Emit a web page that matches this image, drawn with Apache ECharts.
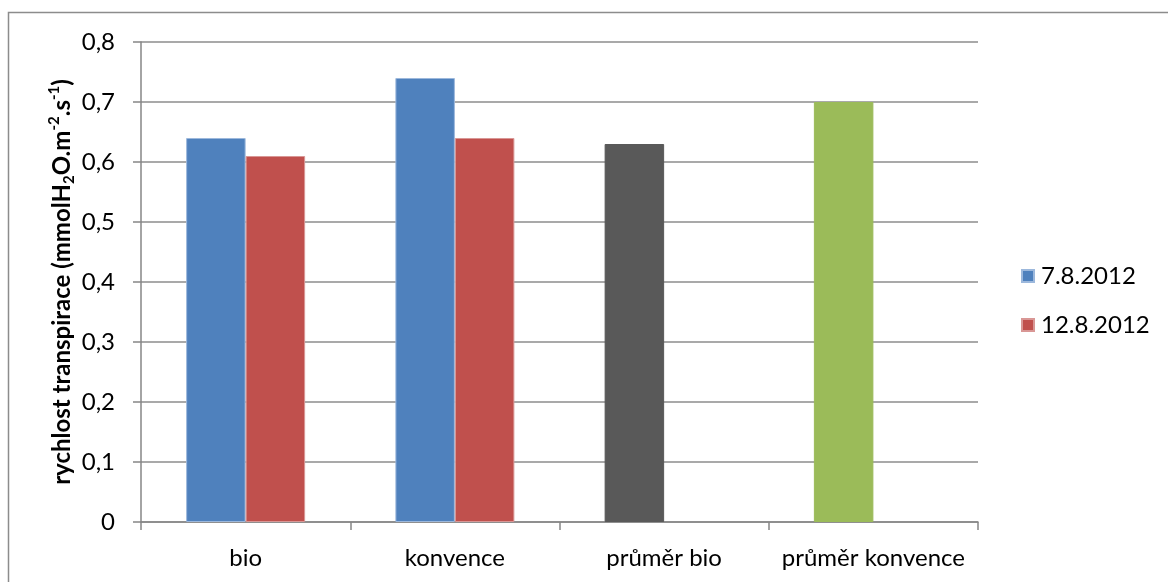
<!DOCTYPE html>
<html>
<head>
<meta charset="utf-8">
<script src="https://cdn.jsdelivr.net/npm/echarts@6/dist/echarts.min.js"></script>
<style>
  html, body { margin: 0; padding: 0; background: #fff; }
  #chart { width: 1168px; height: 582px; }
</style>
</head>
<body>
<div id="chart"></div>
<script>
// Transpiration rate by cultivation type, two measurement dates plus averages
const categories = ['bio', 'konvence', 'průměr bio', 'průměr konvence'];
const seriesNames = ['7.8.2012', '12.8.2012'];
const date1 = [0.64, 0.74, 0.63, 0.70];
const date2 = [0.61, 0.64, null, null];
const yTicks = [0, 0.1, 0.2, 0.3, 0.4, 0.5, 0.6, 0.7, 0.8];

const colBlue = '#4f81bd';
const colRed = '#c0504d';
const colAvgBio = '#595959';
const colAvgKonv = '#9bbb59';
const FONT = 'Lato, Carlito, sans-serif';

// average bars share the first slot but carry their own colours
const firstSeriesData = date1.map((v, i) => {
  if (i === 2) return { value: v, itemStyle: { color: colAvgBio, borderColor: colAvgBio } };
  if (i === 3) return { value: v, itemStyle: { color: colAvgKonv, borderColor: colAvgKonv } };
  return v;
});

const chart = echarts.init(document.getElementById('chart'), null, { renderer: 'canvas' });

chart.setOption({
  animation: false,
  backgroundColor: '#fff',
  textStyle: { fontFamily: FONT },
  graphic: [{
    type: 'rect',
    shape: { x: 8.5, y: 12.5, width: 1200, height: 620 },
    style: { fill: 'none', stroke: '#8c8c8c', lineWidth: 1.5 },
    silent: true,
    z: -1
  }],
  grid: { left: 141, right: 190, top: 42, bottom: 60, containLabel: false },
  legend: {
    orient: 'vertical',
    left: 1021,
    top: 264,
    padding: 0,
    itemWidth: 12,
    itemHeight: 12,
    itemGap: 25,
    icon: 'rect',
    data: seriesNames.map((n, i) => ({ name: n, itemStyle: { color: i === 0 ? colBlue : colRed } })),
    textStyle: { fontFamily: FONT, fontSize: 24, lineHeight: 24, color: '#000', padding: [0, 0, 0, 2] }
  },
  xAxis: {
    type: 'category',
    data: categories,
    axisLine: { show: true, lineStyle: { color: '#868686', width: 1.5 } },
    axisTick: { show: true, alignWithLabel: false, length: 8, lineStyle: { color: '#868686', width: 1.5 } },
    axisLabel: { fontFamily: FONT, fontSize: 24, color: '#000', margin: 24, interval: 0 },
    splitLine: { show: false }
  },
  yAxis: {
    type: 'value',
    min: yTicks[0],
    max: yTicks[yTicks.length - 1],
    interval: 0.1,
    name: '{m|rychlost transpirace (mmolH}{s|2}{m|O.m}{p|-2}{m|.s}{p|-1}{m|)}',
    nameLocation: 'middle',
    nameGap: 64,
    nameRotate: 90,
    nameMoveOverlap: false,
    nameTextStyle: {
      rich: {
        m: { fontFamily: FONT, fontSize: 24, fontWeight: 'bold', color: '#000', lineHeight: 30, verticalAlign: 'middle' },
        s: { fontFamily: FONT, fontSize: 15, fontWeight: 'bold', color: '#000', lineHeight: 30, verticalAlign: 'bottom', padding: [10, 0, 0, 0] },
        p: { fontFamily: FONT, fontSize: 15, fontWeight: 'bold', color: '#000', lineHeight: 30, verticalAlign: 'top', padding: [0, 0, 10, 0] }
      }
    },
    axisLine: { show: true, lineStyle: { color: '#868686', width: 1.5 } },
    axisTick: { show: true, length: 8, lineStyle: { color: '#868686', width: 1.5 } },
    axisLabel: {
      fontFamily: FONT, fontSize: 24, color: '#000', margin: 26,
      formatter: v => (v === 0 ? '0' : v.toFixed(1).replace('.', ','))
    },
    splitLine: { show: true, lineStyle: { color: '#8c8c8c', width: 1.5 } }
  },
  series: [
    {
      name: seriesNames[0],
      type: 'bar',
      data: firstSeriesData,
      barWidth: 59.5,
      barGap: '0%',
      itemStyle: { color: colBlue, borderColor: '#9cb8dc', borderWidth: 1 }
    },
    {
      name: seriesNames[1],
      type: 'bar',
      data: date2,
      barWidth: 59.5,
      barGap: '0%',
      itemStyle: { color: colRed, borderColor: '#d99795', borderWidth: 1 }
    }
  ]
});
</script>
</body>
</html>
